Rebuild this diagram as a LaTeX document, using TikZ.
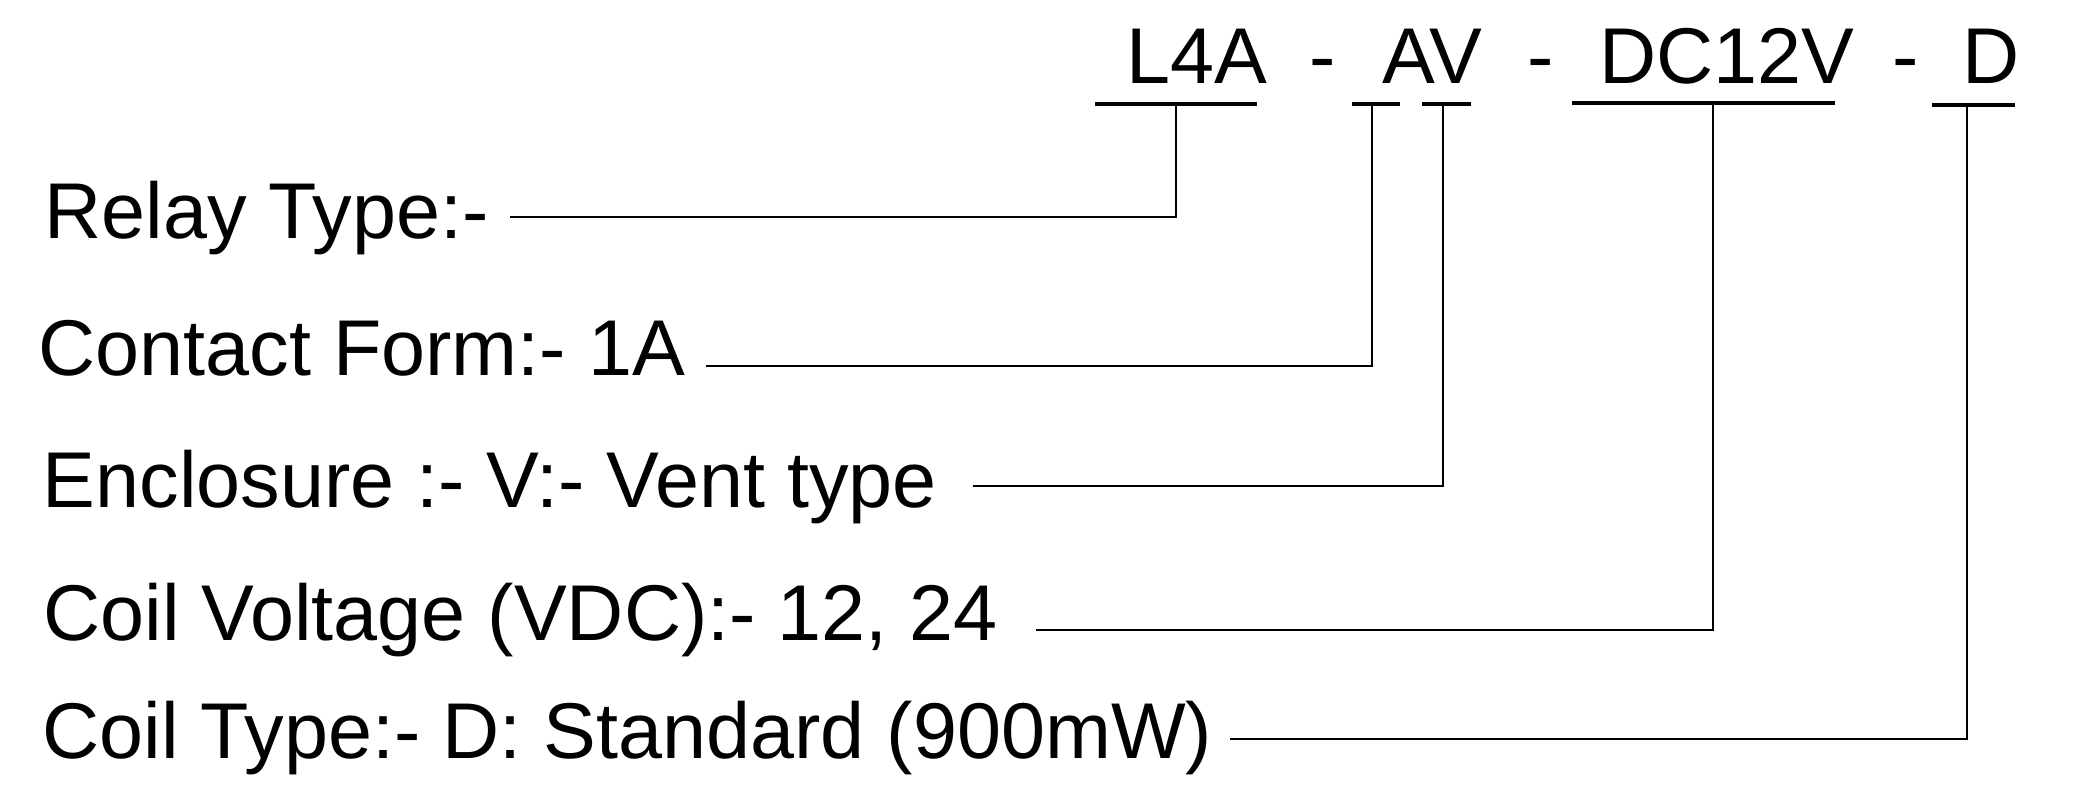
\documentclass[tikz,border=0pt]{standalone}
\usepackage{fontspec}
\setmainfont{Liberation Sans}
\usetikzlibrary{positioning}
\tikzset{lbl/.style={anchor=base west,inner sep=0pt,font=\fontsize{22.5}{27}\selectfont}}
\tikzset{uline/.style={line width=1.3pt,line cap=butt}}
\tikzset{lead/.style={line width=0.65pt,line join=miter}}

\begin{document}
\begin{tikzpicture}[x=0.01cm,y=-0.01cm]
\useasboundingbox (0,0) rectangle (2074,793);

% part number
\draw[]
 (1126,83) node[lbl](pL4A) {L4A}
 (1309,83) node[lbl](dsh1) {-}
 (1382,83) node[lbl](pAV) {AV}
 (1527,83) node[lbl](dsh2) {-}
 (1599,83) node[lbl](pDC) {DC12V}
 (1892,83) node[lbl](dsh3) {-}
 (1962,83) node[lbl](pD) {D};

% underlines and tap points
\draw[uline]
 (1095,104) -- (1257,104)
 (1352,104) -- (1400,104)
 (1422,104) -- (1471,104)
 (1572,103) -- (1835,103)
 (1932,105) -- (2015,105);
\coordinate (tL4A) at (1176,104);
\coordinate (tA) at (1372,104);
\coordinate (tV) at (1443,104);
\coordinate (tDC) at (1713,103);
\coordinate (tD) at (1967,105);

% descriptions
\draw[]
 (44,238) node[lbl](relay) {Relay Type:-}
 (38,375) node[lbl](contact) {Contact Form:- 1A}
 (42,507) node[lbl](encl) {Enclosure :- V:- Vent type}
 (43,640) node[lbl](volt) {Coil Voltage (VDC):- 12, 24}
 (42,758) node[lbl](coil) {Coil Type:- D: Standard (900mW)};

% leaders
\draw[lead] ([xshift=0.2cm,yshift=0.21cm]relay.base east) -| (tL4A);
\draw[lead] ([xshift=0.2cm,yshift=0.09cm]contact.base east) -| (tA);
\draw[lead] ([xshift=0.35cm,yshift=0.21cm]encl.base east) -| (tV);
\draw[lead] ([xshift=0.37cm,yshift=0.10cm]volt.base east) -| (tDC);
\draw[lead] ([xshift=0.17cm,yshift=0.19cm]coil.base east) -| (tD);

\end{tikzpicture}
\end{document}
